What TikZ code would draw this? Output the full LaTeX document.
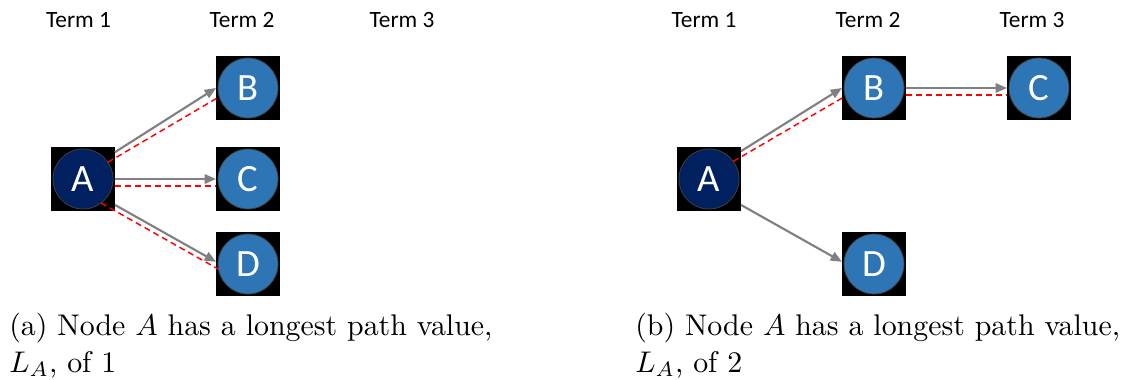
\documentclass[tikz,border=0pt]{standalone}
\usepackage{fontspec}
\usepackage{graphicx}
\newfontfamily\calib{Carlito}
\usetikzlibrary{arrows.meta}
\definecolor{navy}{HTML}{002060}
\definecolor{nodeblue}{HTML}{2E75B6}
\definecolor{edgegray}{HTML}{808080}
\definecolor{rimgray}{HTML}{404040}
\begin{document}
\begin{tikzpicture}[x=0.75pt,y=-0.75pt,
  sqbox/.style={fill=black, minimum size=48pt, inner sep=0pt, outer sep=0pt},
  bub/.style={circle, draw=rimgray, line width=0.6pt, minimum size=45pt, inner sep=0pt, outer sep=0pt, text=white, font=\calib\fontsize{29}{29}\selectfont},
  dk/.style={bub, fill=navy},
  lt/.style={bub, fill=nodeblue},
  arr/.style={draw=edgegray, line width=1.6pt, -{Triangle[length=8.5pt,width=7pt]}},
  lp/.style={draw=red, line width=1.1pt, dash pattern=on 4.5pt off 3pt},
  termlbl/.style={font=\calib\fontsize{17.5}{21}\selectfont, anchor=base, inner sep=0pt},
  captext/.style={font=\fontsize{10}{12}\selectfont, anchor=base west, inner sep=0pt}]
\useasboundingbox (0,0) rectangle (1123,379);
% ---------- left panel ----------
\node[termlbl] (t1a) at (78.5,27) {Term 1};
\node[termlbl] (t2a) at (242,27) {Term 2};
\node[termlbl] (t3a) at (402,27) {Term 3};
\node[sqbox] (A1) at (83,179) {};
\node[dk] (A1c) at (A1) {A};
\node[sqbox] (B1) at (248,88) {};
\node[lt] (B1c) at (B1) {B};
\node[sqbox] (C1) at (248,179) {};
\node[lt] (C1c) at (C1) {C};
\node[sqbox] (D1) at (248,264) {};
\node[lt] (D1c) at (D1) {D};
\draw[lp] (A1c.34) -- (B1c.197);
\draw[lp] ([yshift=-5.25pt]A1.east) -- ([yshift=-5.25pt]C1.west);
\draw[lp] (A1c.-53) -- (D1c.190);
\draw[arr] (A1.40) -- (B1.west);
\draw[arr] (A1.east) -- (C1.west);
\draw[arr] (A1.-39) -- (D1.176);
\node[captext] (capa1) at (9,335) {\scalebox{2.24}{(a) Node $A$ has a longest path value,}};
\node[captext] (capa2) at (9,372) {\scalebox{2.24}{$L_A$, of 1}};
% ---------- right panel ----------
\node[termlbl] (t1b) at (704,27) {Term 1};
\node[termlbl] (t2b) at (868,27) {Term 2};
\node[termlbl] (t3b) at (1032,27) {Term 3};
\node[sqbox] (A2) at (709,179) {};
\node[dk] (A2c) at (A2) {A};
\node[sqbox] (B2) at (874,88) {};
\node[lt] (B2c) at (B2) {B};
\node[sqbox] (C2) at (1039,88) {};
\node[lt] (C2c) at (C2) {C};
\node[sqbox] (D2) at (874,264) {};
\node[lt] (D2c) at (D2) {D};
\draw[lp] (A2c.36) -- (B2c.196);
\draw[lp] ([yshift=-5.25pt]B2.east) -- ([yshift=-5.25pt]C2.west);
\draw[arr] (A2.41) -- (B2.west);
\draw[arr] (B2.east) -- (C2.west);
\draw[arr] (A2.-39) -- (D2.176);
\node[captext] (capb1) at (635,335) {\scalebox{2.24}{(b) Node $A$ has a longest path value,}};
\node[captext] (capb2) at (635,372) {\scalebox{2.24}{$L_A$, of 2}};
\end{tikzpicture}
\end{document}
